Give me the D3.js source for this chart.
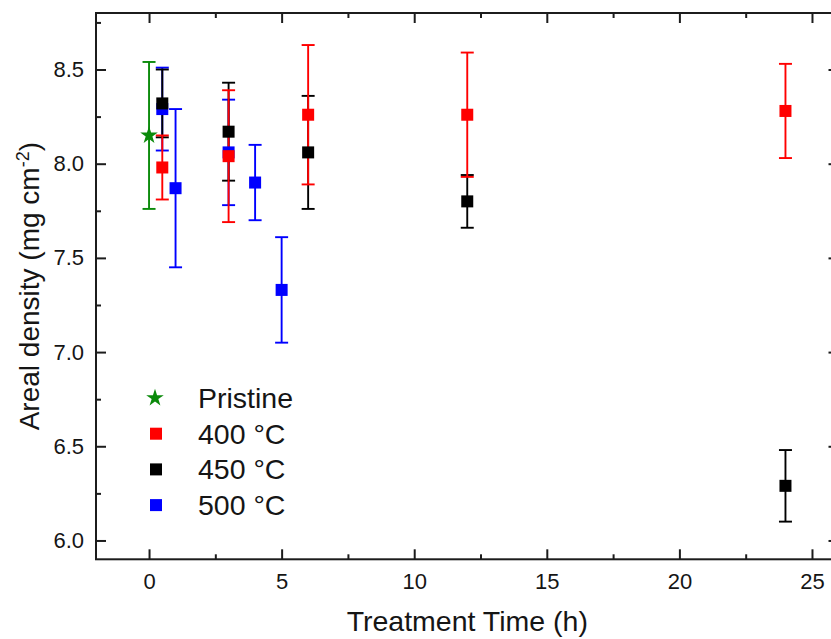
<!DOCTYPE html>
<html>
<head>
<meta charset="utf-8">
<script src="https://cdn.jsdelivr.net/npm/d3@7"></script>
<style>
  html, body { margin: 0; padding: 0; background: #fff; }
  svg { display: block; font-family: "Liberation Sans", Arial, sans-serif; }
</style>
</head>
<body>
<svg id="chart" width="831" height="639"></svg>
<script>
// ---- data ----
const pristineTime = [0];
const pristineDensity = [8.15];
const pristineErr = [0.39];

const time400 = [0.5, 3, 6, 12, 24];
const density400 = [7.98, 8.04, 8.26, 8.26, 8.28];
const err400 = [0.17, 0.35, 0.37, 0.33, 0.25];

const time450 = [0.5, 3, 6, 12, 24];
const density450 = [8.32, 8.17, 8.06, 7.80, 6.29];
const err450 = [0.18, 0.26, 0.30, 0.14, 0.19];

const time500 = [0.5, 1, 3, 4, 5];
const density500 = [8.29, 7.87, 8.06, 7.90, 7.33];
const err500 = [0.22, 0.42, 0.28, 0.20, 0.28];

const xMajorTicks = [0, 5, 10, 15, 20, 25];
const xMinorTicks = [2.5, 7.5, 12.5, 17.5, 22.5];
const yMajorTicks = [6.0, 6.5, 7.0, 7.5, 8.0, 8.5];
const yMinorTicks = [6.25, 6.75, 7.25, 7.75, 8.25, 8.75];

const legendLabels = ["Pristine", "400 °C", "450 °C", "500 °C"];

(function () {
// ---- layout ----
const svg = d3.select("#chart");
const pLeft = 96, pRight = 838.5, pTop = 13, pBottom = 559.3;
const x = d3.scaleLinear().domain([-2, 26]).range([pLeft, pRight]);
const y = d3.scaleLinear().domain([5.9, 8.8]).range([pBottom, pTop]);
const frameColor = "#1c1c1c";
const textColor = "#151515";

function zip(t, v, e) { return t.map((d, i) => ({ t: d, v: v[i], e: e[i] })); }
const series = {
  pristine: { data: zip(pristineTime, pristineDensity, pristineErr), color: "#0a8a0a", shape: "star" },
  s400: { data: zip(time400, density400, err400), color: "#ff0000", shape: "square" },
  s450: { data: zip(time450, density450, err450), color: "#000000", shape: "square" },
  s500: { data: zip(time500, density500, err500), color: "#0000ff", shape: "square" }
};

// ---- axes ----
function styleAxis(g) {
  g.select(".domain").remove();
  g.selectAll(".tick line").attr("stroke", frameColor).attr("stroke-width", 2);
  g.selectAll(".tick text").attr("fill", textColor).style("font-size", "22px")
    .style("font-family", "'Liberation Sans', Arial, sans-serif");
}
svg.append("g").attr("transform", `translate(0,${pBottom})`)
  .call(d3.axisBottom(x).tickValues(xMajorTicks).tickFormat(d3.format("d")).tickSize(-10).tickPadding(14))
  .call(styleAxis);
svg.append("g").attr("transform", `translate(0,${pBottom})`)
  .call(d3.axisBottom(x).tickValues(xMinorTicks).tickFormat("").tickSize(-5))
  .call(styleAxis);
svg.append("g").attr("transform", `translate(0,${pTop})`)
  .call(d3.axisTop(x).tickValues(xMajorTicks).tickFormat("").tickSize(-10))
  .call(styleAxis);
svg.append("g").attr("transform", `translate(0,${pTop})`)
  .call(d3.axisTop(x).tickValues(xMinorTicks).tickFormat("").tickSize(-5))
  .call(styleAxis);
svg.append("g").attr("transform", `translate(${pLeft},0)`)
  .call(d3.axisLeft(y).tickValues(yMajorTicks).tickFormat(d3.format(".1f")).tickSize(-10).tickPadding(12))
  .call(styleAxis);
svg.append("g").attr("transform", `translate(${pLeft},0)`)
  .call(d3.axisLeft(y).tickValues(yMinorTicks).tickFormat("").tickSize(-5))
  .call(styleAxis);
svg.append("g").attr("transform", `translate(${pRight},0)`)
  .call(d3.axisRight(y).tickValues(yMajorTicks).tickFormat("").tickSize(-10))
  .call(styleAxis);
svg.append("g").attr("transform", `translate(${pRight},0)`)
  .call(d3.axisRight(y).tickValues(yMinorTicks).tickFormat("").tickSize(-5))
  .call(styleAxis);

svg.append("rect")
  .attr("x", pLeft).attr("y", pTop)
  .attr("width", pRight - pLeft).attr("height", pBottom - pTop)
  .attr("fill", "none").attr("stroke", frameColor).attr("stroke-width", 2);

// ---- axis titles ----
svg.append("text")
  .attr("x", (pLeft + pRight) / 2).attr("y", 631)
  .attr("text-anchor", "middle").attr("fill", textColor)
  .style("font-size", "28.5px")
  .text("Treatment Time (h)");

const yt = svg.append("text")
  .attr("transform", `translate(39,${(pTop + pBottom) / 2}) rotate(-90)`)
  .attr("text-anchor", "middle").attr("fill", textColor)
  .style("font-size", "28px");
yt.append("tspan").text("Areal density (mg cm");
yt.append("tspan").attr("dy", "-10").style("font-size", "18px").text("-2");
yt.append("tspan").attr("dy", "10").text(")");

// ---- error bars and markers ----
const capW = 13;
function drawErrorBars(s) {
  const g = svg.append("g").attr("stroke", s.color).attr("stroke-width", 1.9).attr("fill", "none");
  s.data.forEach(d => {
    const cx = x(d.t), y1 = y(d.v + d.e), y2 = y(d.v - d.e);
    g.append("line").attr("x1", cx).attr("x2", cx).attr("y1", y1).attr("y2", y2);
    g.append("line").attr("x1", cx - capW / 2).attr("x2", cx + capW / 2).attr("y1", y1).attr("y2", y1);
    g.append("line").attr("x1", cx - capW / 2).attr("x2", cx + capW / 2).attr("y1", y2).attr("y2", y2);
  });
}
const starSym = d3.symbol().type(d3.symbolStar).size(95);
function drawMarkers(s, size) {
  const g = svg.append("g");
  s.data.forEach(d => {
    if (s.shape === "star") {
      g.append("path").attr("d", starSym())
        .attr("transform", `translate(${x(d.t)},${y(d.v)})`).attr("fill", s.color);
    } else {
      g.append("rect").attr("x", x(d.t) - size / 2).attr("y", y(d.v) - size / 2)
        .attr("width", size).attr("height", size).attr("fill", s.color);
    }
  });
}
[series.s500, series.s450, series.s400, series.pristine].forEach(drawErrorBars);
[series.s500, series.s400, series.s450, series.pristine].forEach(s => drawMarkers(s, 12));

// ---- legend ----
const legendSeries = [series.pristine, series.s400, series.s450, series.s500];
const legY0 = 398, legDy = 35.7, legSymX = 156, legTextX = 198;
legendSeries.forEach((s, i) => {
  const cy = legY0 + i * legDy;
  if (s.shape === "star") {
    svg.append("path").attr("d", starSym()).attr("transform", `translate(${legSymX - 1},${cy})`).attr("fill", s.color);
  } else {
    svg.append("rect").attr("x", legSymX - 6).attr("y", cy - 6).attr("width", 12).attr("height", 12).attr("fill", s.color);
  }
  svg.append("text").attr("x", legTextX).attr("y", cy + 10).attr("fill", textColor)
    .style("font-size", "28.5px").text(legendLabels[i]);
});
})();
</script>
</body>
</html>
